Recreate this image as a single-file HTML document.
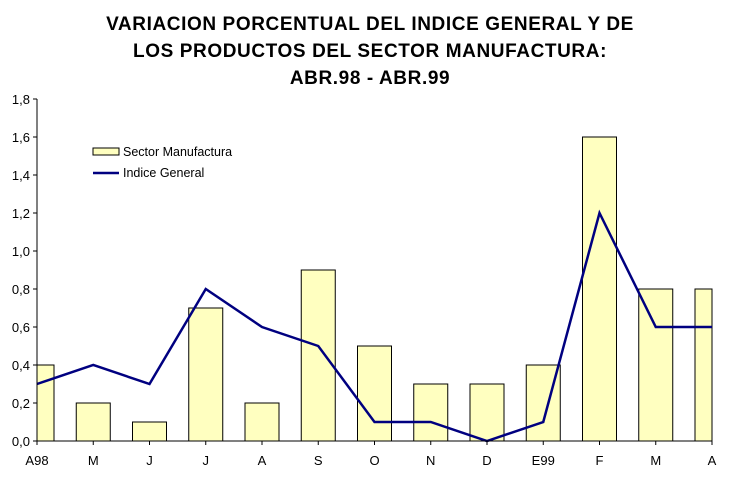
<!DOCTYPE html>
<html><head><meta charset="utf-8"><style>
body{margin:0;background:#fff;width:732px;height:477px;overflow:hidden;font-family:"Liberation Sans",Arial,sans-serif}
</style></head><body>
<svg width="732" height="477" xmlns="http://www.w3.org/2000/svg">
<g font-weight="bold" font-size="19" letter-spacing="0.6" text-anchor="middle" fill="#000">
<text x="370" y="30">VARIACION PORCENTUAL DEL INDICE GENERAL Y DE</text>
<text x="370" y="57">LOS PRODUCTOS DEL SECTOR MANUFACTURA:</text>
<text x="370" y="84">ABR.98 - ABR.99</text>
</g>
<g id="bars"></g>
<polyline id="line" fill="none" stroke="#000080" stroke-width="2.5"/>
<g id="axes" font-size="13" fill="#000"></g>
<g font-size="12.5">
<rect x="93" y="148" width="26" height="7" fill="#FFFFC0" stroke="#000"/>
<text x="123" y="156">Sector Manufactura</text>
<line x1="93" y1="173" x2="119" y2="173" stroke="#000080" stroke-width="2.5"/>
<text x="123" y="177">Indice General</text>
</g>
</svg>
<script>
const categories=["A98","M","J","J","A","S","O","N","D","E99","F","M","A"];
const manufactura=[0.4,0.2,0.1,0.7,0.2,0.9,0.5,0.3,0.3,0.4,1.6,0.8,0.8];
const indiceGeneral=[0.3,0.4,0.3,0.8,0.6,0.5,0.1,0.1,0.0,0.1,1.2,0.6,0.6];
const yTicks=["0,0","0,2","0,4","0,6","0,8","1,0","1,2","1,4","1,6","1,8"];
const yMax=1.8;
const ns="http://www.w3.org/2000/svg";
const x0=37,x1=712,yTop=99,yBot=441;
const step=(x1-x0)/(categories.length-1);
const xPos=i=>x0+i*step;
const yPos=v=>yBot-(v/yMax)*(yBot-yTop);
function mk(t,a,p){const e=document.createElementNS(ns,t);for(const k in a)e.setAttribute(k,a[k]);p.appendChild(e);return e;}
const bars=document.getElementById('bars');
const bw=34;
manufactura.forEach((v,i)=>{
 let l=Math.max(x0,xPos(i)-bw/2),r=Math.min(x1,xPos(i)+bw/2);
 const b=mk('rect',{x:l,y:yPos(v),width:r-l,height:yBot-yPos(v),fill:'#FFFFC0',stroke:'#000','stroke-width':1},bars);
 
 
});
document.getElementById('line').setAttribute('points',indiceGeneral.map((v,i)=>xPos(i)+','+yPos(v)).join(' '));
const ax=document.getElementById('axes');
const ya=mk('line',{x1:x0,y1:yTop,x2:x0,y2:yBot,stroke:'#000'},ax);


const xa=mk('line',{x1:x0,y1:yBot,x2:x1,y2:yBot,stroke:'#000'},ax);


yTicks.forEach((t,i)=>{
 const v=i*0.2,y=yPos(v);
 mk('line',{x1:x0-4,y1:y,x2:x0,y2:y,stroke:'#000'},ax);
 const tx=mk('text',{x:x0-7,y:y+5,'text-anchor':'end'},ax);
 tx.textContent=t;
 
 
});
categories.forEach((c,i)=>{
 const x=xPos(i);
 mk('line',{x1:x,y1:yBot,x2:x,y2:yBot+4,stroke:'#000'},ax);
 const tx=mk('text',{x:x,y:yBot+24,'text-anchor':'middle'},ax);
 tx.textContent=c;
 
 
});
</script>
</body></html>
